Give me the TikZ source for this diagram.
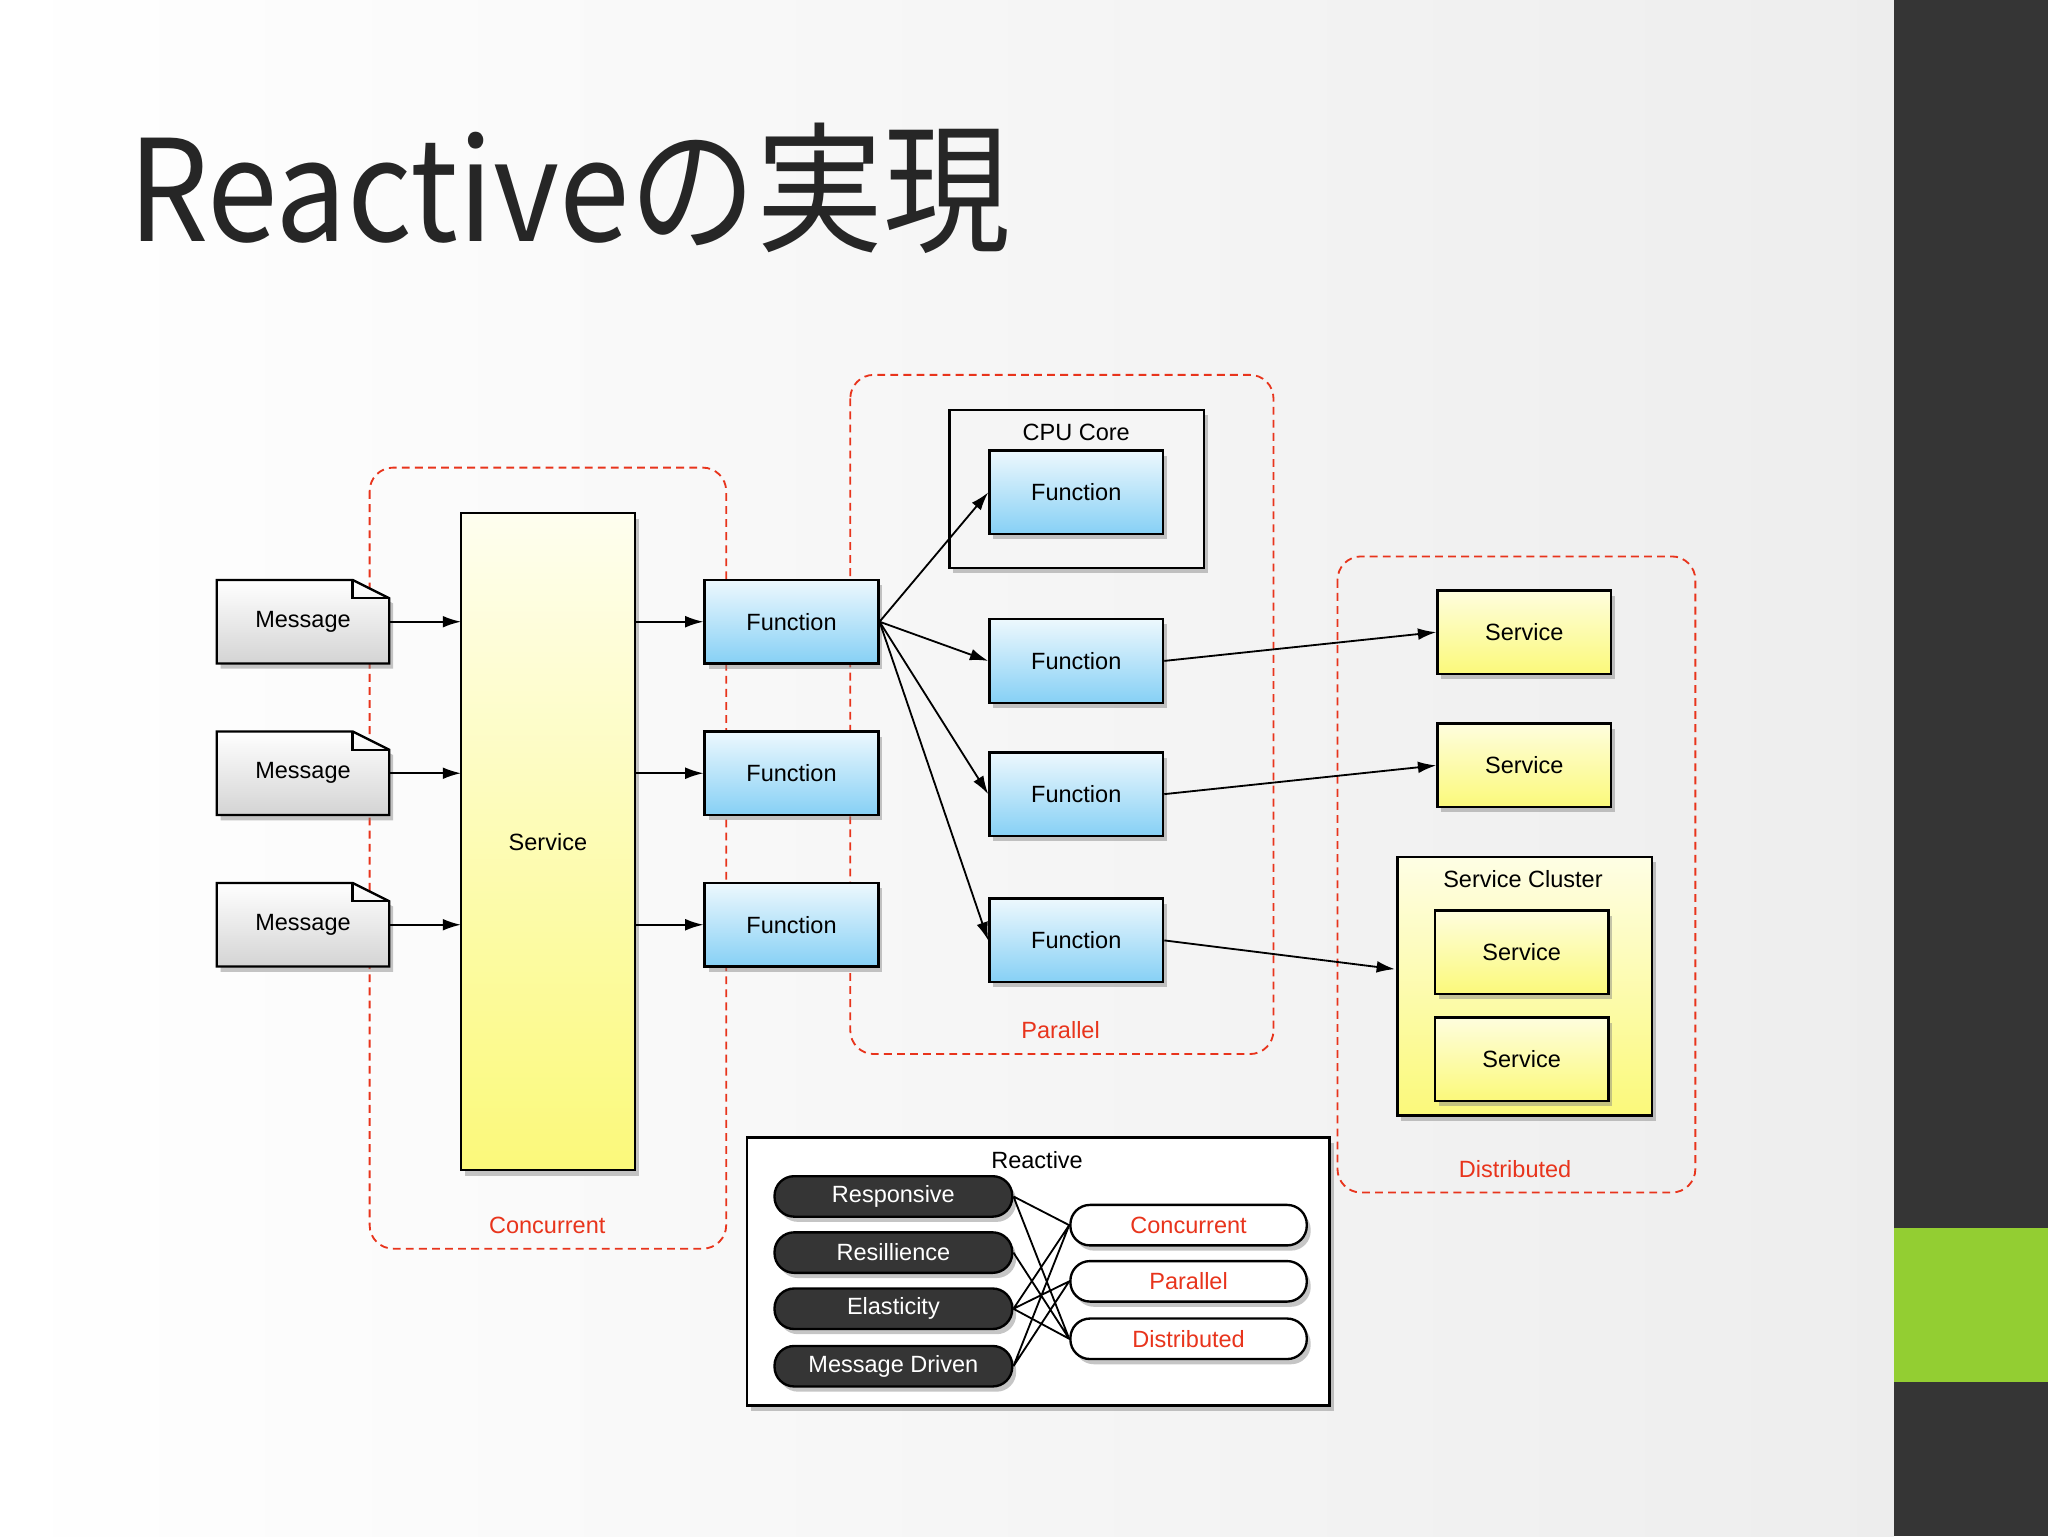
\documentclass[tikz,border=0pt]{standalone}
\usepackage{fontspec}
\setmainfont{Liberation Sans}
\newfontfamily\cjk{Noto Sans CJK JP}
\usetikzlibrary{shadows,arrows.meta}
\definecolor{fnb}{HTML}{86D0F5}
\definecolor{svy}{HTML}{FBF97A}
\definecolor{dark}{HTML}{353535}
\definecolor{grn}{HTML}{93CE32}
\definecolor{redl}{HTML}{E8341C}
\begin{document}
\begin{tikzpicture}[x=1pt,y=-1pt,
 sh/.style={drop shadow={shadow xshift=3pt,shadow yshift=-4pt,opacity=0.45}},
 box/.style={draw=black,line width=1.8pt,minimum width=133pt,minimum height=64pt,font=\fontsize{18}{20}\selectfont,sh},
 fn/.style={box,top color=white!85!fnb,bottom color=fnb},
 sv/.style={box,top color=svy!25,bottom color=svy},
 dsh/.style={draw=redl,line width=1.4pt,rounded corners=18pt,dash pattern=on 6pt off 4pt},
 rl/.style={text=redl,font=\fontsize{18}{20}\selectfont},
 ar/.style={-{Latex[length=14pt,width=9pt]},line width=1.4pt},
 dp/.style={draw=black,line width=1.8pt,fill=dark,text=white,rounded corners=15pt,minimum width=182pt,minimum height=31pt,font=\fontsize{18}{20}\selectfont,sh},
 wp/.style={draw=black,line width=1.8pt,fill=white,text=redl,rounded corners=15pt,minimum width=181pt,minimum height=31pt,font=\fontsize{18}{20}\selectfont,sh},
 ln/.style={line width=1.4pt}]
\useasboundingbox (0,0) rectangle (1568,1176);
\shade[left color=white,right color=black!7] (0,0) rectangle (1450,1176);
\fill[dark] (1450,0) rectangle (1568,1176);
\fill[grn] (1450,940) rectangle (1568,1058);
\node[anchor=base west,font=\cjk\fontsize{108}{110}\selectfont,text=black!85,inner sep=0,xscale=0.9] (title) at (98,185) {Reactiveの実現};
% dashed regions
\draw[dsh] (283,358) rectangle (556,956);
\draw[dsh] (651,287) rectangle (975,807);
\draw[dsh] (1024,426) rectangle (1298,913);
\node[rl] (lc) at (419,938) {Concurrent};
\node[rl] (lp) at (812,789) {Parallel};
\node[rl] (ld) at (1160,895) {Distributed};
% messages
\foreach \i/\y in {1/476,2/592,3/708}{
 \begin{scope}[shift={(166,\y-32)}]
 \path[draw=black,line width=1.8pt,top color=white,bottom color=black!17,sh] (0,0)--(104,0)--(132,14)--(132,64)--(0,64)--cycle;
 \draw[line width=1.8pt] (104,0)--(104,14)--(132,14);
 \end{scope}
 \node[font=\fontsize{18}{20}\selectfont] (m\i) at (232,\y) {Message};
}
\node[box,top color=svy!12,bottom color=svy,minimum width=133pt,minimum height=503pt] (S) at (419.5,644.5) {Service};
\node[fn] (f1) at (606,476) {Function};
\node[fn] (f2) at (606,592) {Function};
\node[fn] (f3) at (606,708) {Function};
\foreach \i/\y in {1/476,2/592,3/708}{
 \draw[ar] (298,\y) -- (353,\y);
 \draw[ar] (486,\y) -- (f\i.west);
}
% CPU core
\node[draw=black,line width=1.8pt,fill=black!4,minimum width=195pt,minimum height=121pt,sh] (cpu) at (824.5,374.5) {};
\node[font=\fontsize{18}{20}\selectfont] (cpul) at (824,331) {CPU Core};
\node[fn] (g0) at (824,377) {Function};
\node[fn] (g1) at (824,506) {Function};
\node[fn] (g2) at (824,608) {Function};
\node[fn] (g3) at (824,720) {Function};
\draw[ar] (f1.east) -- (g0.west);
\draw[ar] (f1.east) -- (g1.west);
\draw[ar] (f1.east) -- (g2.west);
\draw[ar] (f1.east) -- (g3.west);
% services
\node[sv] (s1) at (1167,484) {Service};
\node[sv] (s2) at (1167,586) {Service};
\node[draw=black,line width=1.8pt,top color=svy!20,bottom color=svy,minimum width=195pt,minimum height=198pt,sh] (cl) at (1167.5,755) {};
\node[font=\fontsize{18}{20}\selectfont] (cll) at (1166,673) {Service Cluster};
\node[sv] (c1) at (1165,729) {Service};
\node[sv] (c2) at (1165,811) {Service};
\draw[ar] (g1.east) -- (s1.west);
\draw[ar] (g2.east) -- (s2.west);
\draw[ar] (g3.east) -- (1068,742);
% reactive box
\node[draw=black,line width=1.8pt,fill=white,minimum width=446pt,minimum height=205pt,sh] (R) at (795,973.5) {};
\node[font=\fontsize{18}{20}\selectfont] (rl) at (794,888) {Reactive};
\node[dp] (p1) at (684,916) {Responsive};
\node[dp] (p2) at (684,959) {Resillience};
\node[dp] (p3) at (684,1002) {Elasticity};
\node[dp] (p4) at (684,1046) {Message Driven};
\node[wp] (q1) at (910,938) {Concurrent};
\node[wp] (q2) at (910,981) {Parallel};
\node[wp] (q3) at (910,1025) {Distributed};
\draw[ln] (p1.east)--(q1.west) (p1.east)--(q3.west) (p2.east)--(q3.west)
 (p3.east)--(q1.west) (p3.east)--(q2.west) (p3.east)--(q3.west)
 (p4.east)--(q1.west) (p4.east)--(q2.west);
\end{tikzpicture}
\end{document}
